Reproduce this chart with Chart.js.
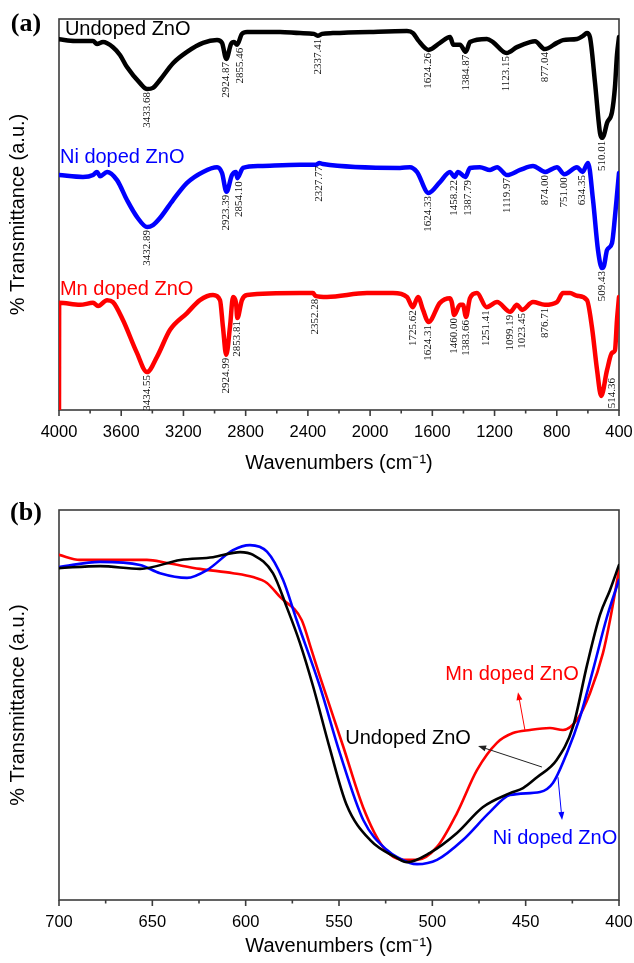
<!DOCTYPE html>
<html>
<head>
<meta charset="utf-8">
<script src="https://cdn.jsdelivr.net/npm/chart.js@4.4.1/dist/chart.umd.min.js"></script>
<style>
  body { margin: 0; background: #fff; width: 634px; height: 963px; overflow: hidden; position: relative; }
  canvas { position: absolute; left: 0; }
  #survey { top: 0; }
  #zoomed { top: 482px; }
</style>
</head>
<body>
<canvas id="survey" width="634" height="482"></canvas>
<canvas id="zoomed" width="634" height="483"></canvas>
<script>
// ---- (a) full FTIR survey, 4000-400 cm-1, curves stacked with offsets ----
const undopedWaveA = [4000, 3897, 3781, 3756, 3717, 3653, 3608, 3563, 3479, 3433.68, 3396, 3351, 3267, 3177, 3074, 2984, 2952, 2924.87, 2894, 2875, 2855.46, 2824, 2791, 2579, 2451, 2361, 2337.41, 2309, 2239, 2001, 1763, 1724, 1692, 1624.26, 1551, 1486, 1465, 1422, 1384.87, 1358, 1249, 1210, 1123.15, 1056, 972, 940, 877.04, 799, 760, 670, 631, 606, 587, 554, 522, 510.01, 497, 477, 445, 426, 413, 400];
const undopedTransA = [94.8, 94.4, 94.4, 93.6, 94.1, 92.8, 90.8, 87.7, 83.6, 82.1, 82.4, 84.4, 88.7, 91.6, 93.9, 94.6, 93.9, 89.8, 93.6, 94.1, 93.4, 96.2, 96.7, 96.7, 96.4, 96.2, 95.7, 96.2, 96.4, 96.7, 96.9, 96.4, 94.6, 92.1, 93.9, 95.4, 93.4, 93.4, 91.6, 94.1, 94.9, 94.1, 91.3, 92.8, 94.1, 94.3, 92.3, 93.9, 94.6, 94.9, 95.7, 96.4, 95.4, 83.6, 70.8, 69.6, 70.3, 73.4, 76.2, 82.6, 90.8, 95.4];

const niWaveA = [4000, 3846, 3781, 3756, 3736, 3691, 3627, 3563, 3499, 3432.89, 3396, 3351, 3267, 3177, 3074, 2984, 2952, 2923.39, 2888, 2862, 2854.10, 2817, 2708, 2451, 2348, 2327.77, 2303, 1808, 1744, 1699, 1624.33, 1551, 1486, 1458.22, 1435, 1387.79, 1358, 1294, 1229, 1184, 1119.97, 1036, 953, 874, 799, 751, 670, 634.35, 599, 567, 535, 509.43, 497, 477, 445, 426, 413, 400];
const niTransA = [60.1, 59.6, 60.1, 60.9, 59.8, 60.9, 58.8, 53.7, 49.4, 46.8, 47.3, 49.1, 53.7, 58.1, 60.9, 62.1, 60.6, 55.8, 60.1, 60.9, 59.3, 61.9, 62.4, 62.7, 62.7, 63.2, 62.9, 61.9, 62.1, 60.9, 55.5, 58.3, 60.9, 59.6, 60.9, 59.6, 61.9, 62.1, 61.4, 62.1, 60.1, 61.4, 62.4, 60.9, 62.1, 60.3, 62.1, 60.9, 63.2, 53.7, 40.9, 36.3, 36.8, 40.9, 42.7, 49.4, 55.0, 60.6];

const mnWaveA = [4000, 3999, 3865, 3781, 3749, 3691, 3653, 3589, 3499, 3434.55, 3370, 3286, 3177, 3094, 3010, 2965, 2946, 2924.99, 2901, 2881, 2862, 2853.81, 2824, 2791, 2451, 2367, 2352.28, 2277, 2020, 1853, 1763, 1725.62, 1692, 1660, 1624.31, 1551, 1486, 1474, 1460, 1422, 1403, 1383.66, 1358, 1313, 1251.41, 1184, 1099.19, 1056, 1023.45, 953, 876.71, 799, 760, 715, 670, 606, 574, 541, 514.36, 477, 445, 426, 413, 400];
const mnTransA = [0, 27.4, 26.9, 27.4, 26.6, 28.1, 27.6, 23.0, 14.6, 9.7, 13.6, 20.5, 24.8, 28.1, 29.4, 28.1, 21.2, 14.1, 21.2, 28.9, 27.4, 23.5, 28.1, 29.4, 29.9, 29.9, 29.2, 28.9, 29.9, 29.9, 28.9, 26.3, 28.9, 25.6, 22.5, 27.4, 28.6, 27.4, 24.3, 26.9, 26.9, 23.8, 28.6, 29.9, 26.3, 27.6, 25.1, 26.9, 25.6, 27.6, 26.9, 27.6, 29.9, 29.9, 29.2, 28.1, 21.2, 10.2, 3.6, 10.2, 14.6, 15.3, 23.0, 28.9];

// band positions written under each curve
const undopedPeaksA = [3433.68, 2924.87, 2855.46, 2337.41, 1624.26, 1384.87, 1123.15, 877.04, 510.01];
const niPeaksA = [3432.89, 2923.39, 2854.10, 2327.77, 1624.33, 1458.22, 1387.79, 1119.97, 874.00, 751.00, 634.35, 509.43];
const mnPeaksA = [3434.55, 2924.99, 2853.81, 2352.28, 1725.62, 1624.31, 1460.00, 1383.66, 1251.41, 1099.19, 1023.45, 876.71, 514.36];

// ---- (b) Zn-O stretching region, 700-400 cm-1 ----
const undopedWaveB = [700, 678, 656.6, 635, 617.5, 603, 596, 585.4, 578, 571, 564, 555, 546, 533.4, 519, 513.6, 501.3, 486.8, 473, 458.4, 451.4, 443.9, 433.4, 424.6, 417.1, 410.2, 404.8, 400];
const undopedTransB = [85.1, 85.6, 84.9, 87.2, 87.9, 89.2, 88.5, 83.8, 75.1, 66.0, 55.0, 39.0, 24.5, 15.4, 10.8, 9.7, 12.1, 17.2, 23.8, 27.4, 28.7, 31.5, 35.9, 44.5, 60.3, 73.1, 79.5, 85.9];

const niWaveB = [700, 678, 656.6, 645.9, 631.4, 620.7, 606.8, 597.7, 588.6, 580, 572.7, 560.2, 549.5, 537, 524.3, 512, 508.2, 497.5, 483.6, 469.1, 458.4, 442.3, 435.4, 427.9, 420.9, 413.9, 406.5, 400];
const niTransB = [85.4, 86.7, 85.9, 83.8, 82.6, 84.6, 89.7, 91.0, 89.3, 82.1, 71.8, 54.7, 37.6, 20.5, 12.8, 9.5, 9.2, 10.3, 15.4, 22.6, 26.9, 27.7, 30.0, 37.7, 46.9, 59.0, 72.5, 82.1];

const mnWaveB = [700, 688.8, 652.9, 642.1, 624.5, 606.8, 596.1, 588.6, 581.6, 570, 565, 560.2, 547.7, 537.1, 526.4, 515.7, 508.2, 497.5, 486.8, 476.1, 465.4, 456.8, 447.7, 437, 430, 422.5, 415.5, 408.6, 404.8, 400];
const mnTransB = [88.5, 87.2, 87.2, 86.4, 84.9, 83.8, 82.8, 81.3, 77.7, 71.8, 64.5, 57.3, 39.3, 23.8, 13.6, 10.3, 10.3, 13.6, 22.3, 33.3, 40.3, 42.8, 43.6, 44.1, 43.6, 46.2, 53.1, 63.3, 71.8, 84.6];

const SANS = '"Liberation Sans", Arial, sans-serif';
const SERIF = '"Liberation Serif", "Times New Roman", serif';
const BLACK = '#000000', BLUE = '#0000ff', RED = '#ff0000';

Chart.defaults.font.family = SANS;
Chart.defaults.color = '#000';

const toPoints = (waves, vals) => waves.map((w, i) => ({ x: w, y: vals[i] }));

// linear lookup of a curve value at a given wavenumber (waves are descending)
function valueAt(waves, vals, w) {
    for (let i = 0; i < waves.length - 1; i++) {
        const a = waves[i], b = waves[i + 1];
        if (w <= a && w >= b) {
            const t = (a - w) / (a - b);
            return vals[i] + t * (vals[i + 1] - vals[i]);
        }
    }
    return vals[vals.length - 1];
}

// box around the plot plus outward ticks on the bottom axis
const plotFrame = {
    id: 'plotFrame',
    beforeDatasetsDraw(chart, args, opts) {
        const { ctx, chartArea: a, scales: { x } } = chart;
        ctx.save();
        ctx.strokeStyle = '#3c3c3c';
        ctx.lineWidth = 1.6;
        ctx.strokeRect(a.left, a.top, a.right - a.left, a.bottom - a.top);
        for (let v = x.min; v <= x.max + 1e-6; v += opts.minorStep) {
            const px = x.getPixelForValue(v);
            const r = v / opts.majorStep;
            const major = Math.abs(r - Math.round(r)) < 1e-6;
            ctx.beginPath();
            ctx.moveTo(px, a.bottom);
            ctx.lineTo(px, a.bottom + (major ? 6 : 3.5));
            ctx.stroke();
        }
        ctx.restore();
    }
};

function drawArrow(ctx, x0, y0, x1, y1, color) {
    const ang = Math.atan2(y1 - y0, x1 - x0);
    const len = 8, half = 3;
    ctx.strokeStyle = color;
    ctx.fillStyle = color;
    ctx.lineWidth = 1;
    ctx.beginPath();
    ctx.moveTo(x0, y0);
    ctx.lineTo(x1 - Math.cos(ang) * len * 0.8, y1 - Math.sin(ang) * len * 0.8);
    ctx.stroke();
    ctx.beginPath();
    ctx.moveTo(x1, y1);
    ctx.lineTo(x1 - Math.cos(ang) * len - Math.sin(ang) * half, y1 - Math.sin(ang) * len + Math.cos(ang) * half);
    ctx.lineTo(x1 - Math.cos(ang) * len + Math.sin(ang) * half, y1 - Math.sin(ang) * len - Math.cos(ang) * half);
    ctx.closePath();
    ctx.fill();
}

// panel letter, curve names, arrows and rotated band labels
const notes = {
    id: 'notes',
    afterDatasetsDraw(chart, args, opts) {
        const { ctx, chartArea, scales: { x, y } } = chart;
        ctx.save();
        ctx.textBaseline = 'middle';

        ctx.font = `bold 26px ${SERIF}`;
        ctx.fillStyle = '#000';
        ctx.textAlign = 'center';
        ctx.fillText(opts.letter, 26, chartArea.top + opts.letterDy);

        ctx.font = `20px ${SANS}`;
        (opts.names || []).forEach(n => {
            ctx.fillStyle = n.color;
            ctx.textAlign = n.align;
            ctx.fillText(n.text, x.getPixelForValue(n.at[0]), y.getPixelForValue(n.at[1]));
        });

        (opts.arrows || []).forEach(a => {
            drawArrow(ctx, x.getPixelForValue(a.from[0]), y.getPixelForValue(a.from[1]),
                x.getPixelForValue(a.to[0]), y.getPixelForValue(a.to[1]), a.color);
        });

        ctx.font = `11px ${SERIF}`;
        ctx.fillStyle = '#111';
        ctx.textAlign = 'right';
        (opts.peaks || []).forEach(p => {
            p.bands.forEach(w => {
                const text = w.toFixed(2);
                const shift = (opts.nudge && opts.nudge[text]) || [0, 0];
                const px = x.getPixelForValue(w) + shift[0];
                const py = y.getPixelForValue(valueAt(p.waves, p.vals, w)) + 3 + shift[1];
                ctx.save();
                ctx.translate(px, py);
                ctx.rotate(-Math.PI / 2);
                ctx.fillText(text, 0, 0);
                ctx.restore();
            });
        });
        ctx.restore();
    }
};

const line = (label, waves, vals, color, width) => ({
    label,
    data: toPoints(waves, vals),
    borderColor: color,
    backgroundColor: color,
    borderWidth: width,
    pointRadius: 0,
    fill: false,
    cubicInterpolationMode: 'monotone',
    borderJoinStyle: 'round',
    borderCapStyle: 'round'
});

function axes(min, max, step, xHeight) {
    return {
        x: {
            type: 'linear', reverse: true, min, max,
            grid: { display: false },
            border: { display: false },
            ticks: {
                stepSize: step, padding: 5, autoSkip: false, maxRotation: 0,
                font: { size: 16.5 }, color: '#000',
                callback: v => String(v)
            },
            title: {
                display: true, text: 'Wavenumbers (cm\u207B\u00B9)', color: '#000',
                font: { size: 20 }, padding: { top: 0, bottom: 7 }
            },
            afterFit: s => {
                s.height = xHeight;
                // end labels may overhang the box; keep the plot width fixed
                s.paddingLeft = 0;
                s.paddingRight = 0;
            }
        },
        y: {
            min: 0, max: 100,
            grid: { display: false },
            border: { display: false },
            ticks: { display: false },
            title: {
                display: true, text: '% Transmittance (a.u.)', color: '#000',
                font: { size: 20 }, padding: { top: 6, bottom: 0 }
            },
            afterFit: s => { s.width = 59; }
        }
    };
}

new Chart(document.getElementById('survey'), {
    type: 'line',
    data: {
        datasets: [
            line('Undoped ZnO', undopedWaveA, undopedTransA, BLACK, 4.5),
            line('Ni doped ZnO', niWaveA, niTransA, BLUE, 4.5),
            line('Mn doped ZnO', mnWaveA, mnTransA, RED, 4.5)
        ]
    },
    options: {
        responsive: false,
        devicePixelRatio: 1,
        animation: false,
        layout: { padding: { top: 19, right: 15, bottom: 0, left: 0 } },
        scales: axes(400, 4000, 400, 72),
        plugins: {
            legend: { display: false },
            tooltip: { enabled: false },
            plotFrame: { majorStep: 400, minorStep: 200 },
            notes: {
                letter: '(a)', letterDy: 5,
                names: [
                    { text: 'Undoped ZnO', at: [3962, 97.3], color: BLACK, align: 'left' },
                    { text: 'Ni doped ZnO', at: [3994, 64.6], color: BLUE, align: 'left' },
                    { text: 'Mn doped ZnO', at: [3994, 30.8], color: RED, align: 'left' }
                ],
                peaks: [
                    { waves: undopedWaveA, vals: undopedTransA, bands: undopedPeaksA },
                    { waves: niWaveA, vals: niTransA, bands: niPeaksA },
                    { waves: mnWaveA, vals: mnTransA, bands: mnPeaksA }
                ],
                nudge: { '2855.46': [3, 0], '2854.10': [2, 0], '1387.79': [2.5, 0], '514.36': [11, -21] }
            }
        }
    },
    plugins: [plotFrame, notes]
});

new Chart(document.getElementById('zoomed'), {
    type: 'line',
    data: {
        datasets: [
            line('Undoped ZnO', undopedWaveB, undopedTransB, BLACK, 2.6),
            line('Ni doped ZnO', niWaveB, niTransB, BLUE, 2.6),
            line('Mn doped ZnO', mnWaveB, mnTransB, RED, 2.6)
        ]
    },
    options: {
        responsive: false,
        devicePixelRatio: 1,
        animation: false,
        layout: { padding: { top: 28, right: 15, bottom: 0, left: 0 } },
        scales: axes(400, 700, 50, 65),
        plugins: {
            legend: { display: false },
            tooltip: { enabled: false },
            plotFrame: { majorStep: 50, minorStep: 25 },
            notes: {
                letter: '(b)', letterDy: 3.5,
                names: [
                    { text: 'Mn doped ZnO', at: [457.3, 57.7], color: RED, align: 'center' },
                    { text: 'Undoped ZnO', at: [513, 41.5], color: BLACK, align: 'center' },
                    { text: 'Ni doped ZnO', at: [434.3, 15.9], color: BLUE, align: 'center' }
                ],
                arrows: [
                    { from: [450.4, 43.6], to: [454.1, 53.3], color: RED },
                    { from: [441.3, 34.1], to: [475.5, 39.5], color: '#222' },
                    { from: [432.7, 31.5], to: [430.5, 20.5], color: BLUE }
                ]
            }
        }
    },
    plugins: [plotFrame, notes]
});
</script>
</body>
</html>
